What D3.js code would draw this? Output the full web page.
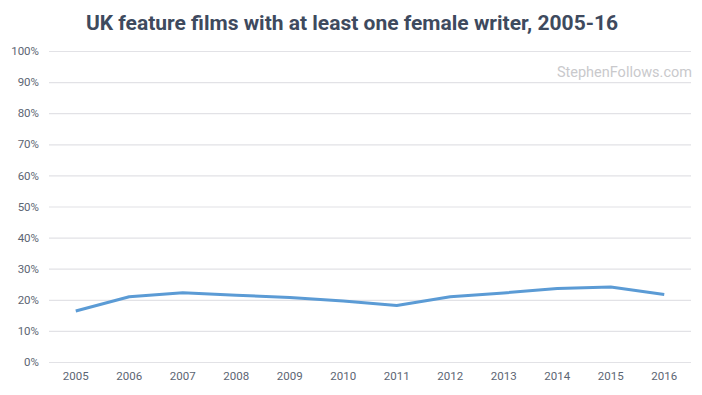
<!DOCTYPE html>
<html><head><meta charset="utf-8">
<script src="https://cdn.jsdelivr.net/npm/d3@7"></script>
<style>body{margin:0;background:#fff}svg{display:block}</style>
</head><body>
<svg id="c" width="702" height="395"></svg>
<script>
const years = ["2005","2006","2007","2008","2009","2010","2011","2012","2013","2014","2015","2016"];
const shares = [16.4,21.0,22.3,21.5,20.7,19.6,18.2,21.0,22.2,23.6,24.1,21.7];
const yTicks = [0,10,20,30,40,50,60,70,80,90,100];
const titleText = "UK feature films with at least one female writer, 2005-16";
const watermark = "StephenFollows.com";

const svg = d3.select("#c");
const L = 49, R = 691, T = 51, B = 362;
const x = d3.scaleBand().domain(years).range([L, R]);
const y = d3.scaleLinear().domain([0, 100]).range([B, T]);

svg.append("text").attr("x", 352).attr("y", 30).attr("text-anchor", "middle")
  .attr("font-family", "Roboto, sans-serif").attr("font-weight", 700).attr("font-size", 21)
  .attr("fill", "#3e4a5e").text(titleText);

const yAxis = svg.append("g").attr("transform", `translate(${L},0)`)
  .call(d3.axisLeft(y).tickValues(yTicks).tickSize(-(R - L)).tickFormat(d => d + "%"));
yAxis.select(".domain").remove();
yAxis.selectAll(".tick line").attr("stroke", "#e2e2e6").attr("stroke-width", 1.2);
yAxis.selectAll(".tick text").attr("x", -10).attr("fill", "#5c6573")
  .attr("font-family", "Roboto, sans-serif").attr("font-size", 11.5);

const xAxis = svg.append("g").attr("transform", `translate(0,${B})`)
  .call(d3.axisBottom(x).tickSize(0));
xAxis.select(".domain").remove();
xAxis.selectAll(".tick text").attr("dy", 0).attr("y", 18).attr("fill", "#5c6573")
  .attr("font-family", "Roboto, sans-serif").attr("font-size", 11.5);

svg.append("text").attr("x", 692).attr("y", 77).attr("text-anchor", "end")
  .attr("font-family", "Roboto, sans-serif").attr("font-size", 14.5)
  .attr("fill", "#c9c9cc").text(watermark);

const line = d3.line().x((d, i) => x(years[i]) + x.bandwidth() / 2).y(d => y(d));
svg.append("path").datum(shares).attr("d", line).attr("fill", "none")
  .attr("stroke", "#5b9bd5").attr("stroke-width", 3).attr("stroke-linejoin", "round");
</script>
</body></html>
